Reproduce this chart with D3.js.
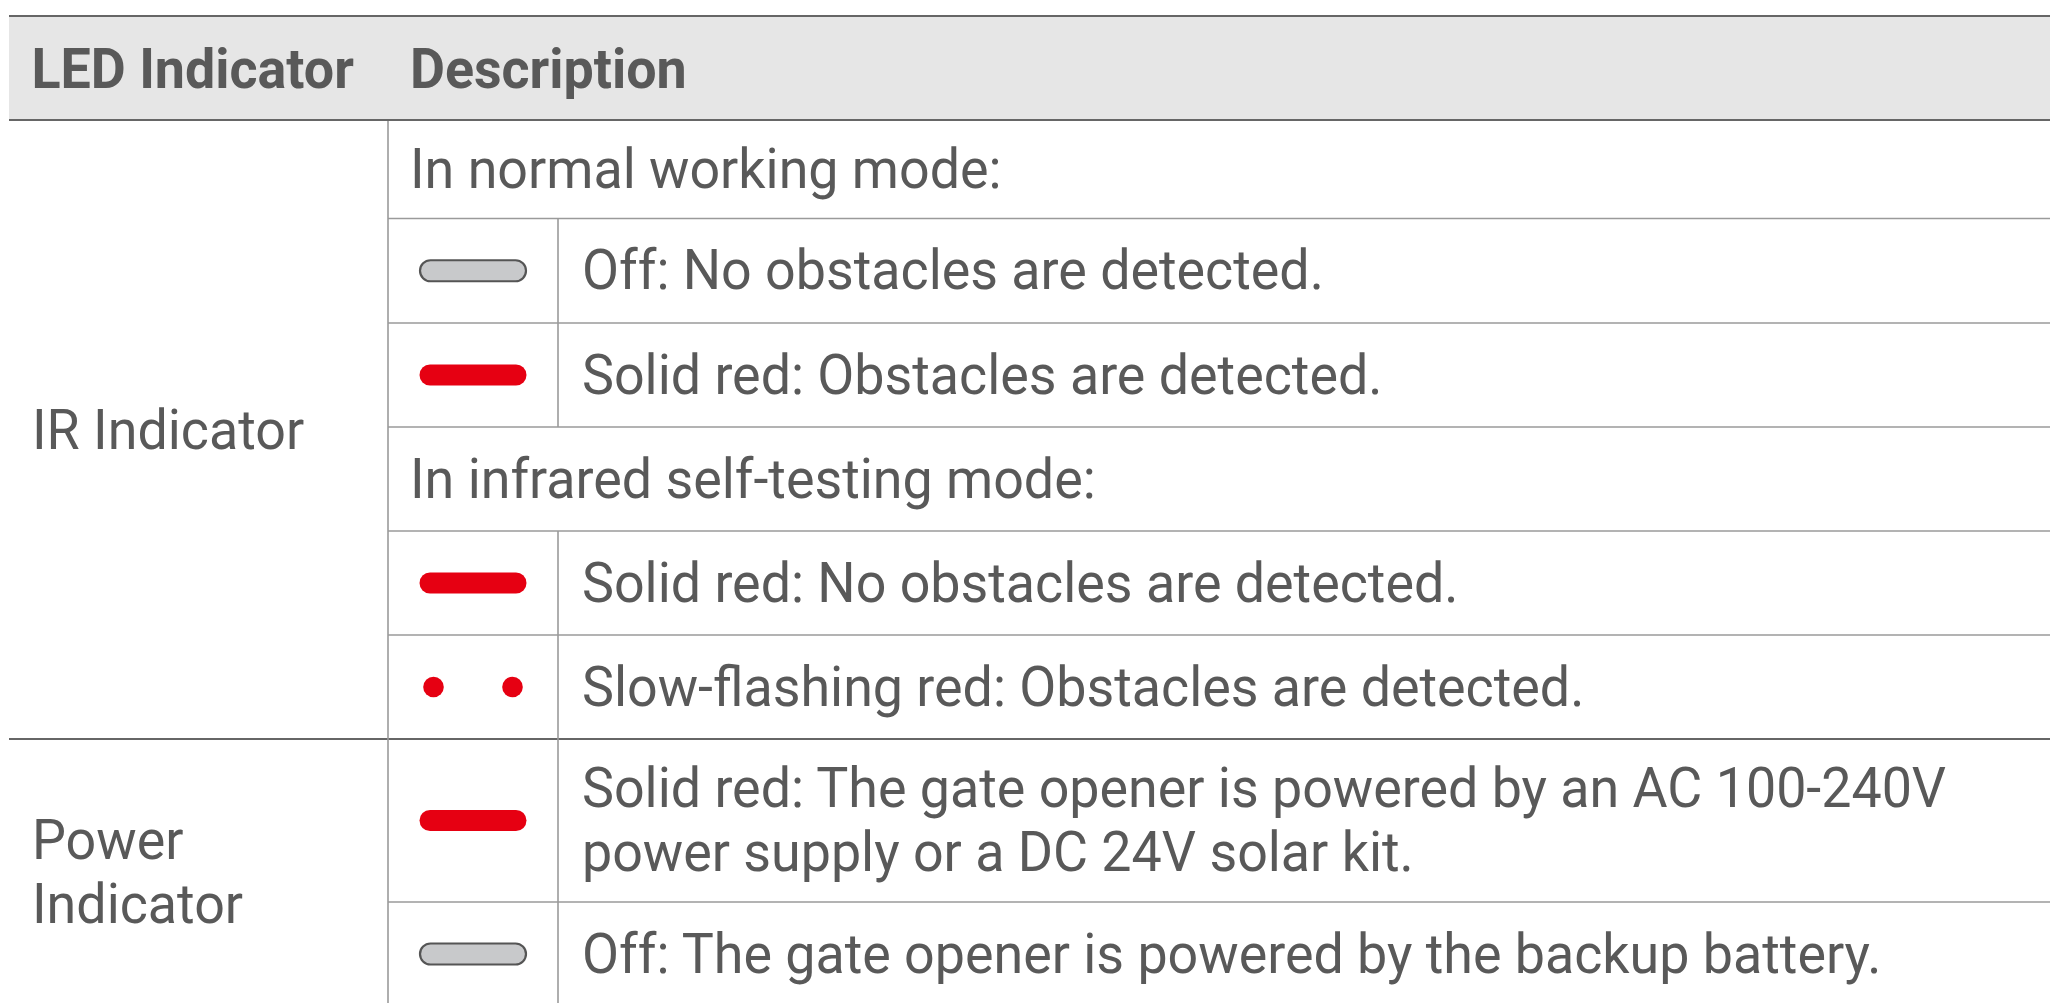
<!DOCTYPE html>
<html><head><meta charset="utf-8">
<script src="https://cdn.jsdelivr.net/npm/d3@7"></script>
<style>html,body{margin:0;padding:0;background:#fff;overflow:hidden}</style>
</head><body><svg id="c" width="2064" height="1003"></svg>
<script>
// ---- data ----
const headers = ["LED Indicator", "Description"];
const groupLabels = [["IR Indicator"], ["Power", "Indicator"]];
const rowGroup = [0, 0, 0, 0, 0, 0, 1, 1];
const rowIcon = [null, "off", "solid", null, "solid", "flash", "solid", "off"];
const rowText = [
  ["In normal working mode:"],
  ["Off: No obstacles are detected."],
  ["Solid red: Obstacles are detected."],
  ["In infrared self-testing mode:"],
  ["Solid red: No obstacles are detected."],
  ["Slow-flashing red: Obstacles are detected."],
  ["Solid red: The gate opener is powered by an AC 100-240V", "power supply or a DC 24V solar kit."],
  ["Off: The gate opener is powered by the backup battery."]
];

// ---- layout ----
const W = 2064, H = 1003;
const L = 9, R = 2050, C1 = 388, C2 = 558;
const headTop = 16, headBot = 120;
const rowH = [98.5, 104.5, 104, 104, 104, 104, 163, 104];
const FS = 55, SX = 0.978, LINE = 64;
const textCol = "#595959", darkLine = "#666", lightLine = "#9a9a9a";
const red = "#e60012";

const rowY = [];
let acc = headBot;
rowH.forEach(h => { rowY.push(acc); acc += h; });
const rows = rowText.map((t, i) => ({i, text: t, icon: rowIcon[i], group: rowGroup[i], y0: rowY[i], y1: rowY[i] + rowH[i]}));

const svg = d3.select("#c");
const font = "Roboto, 'Noto Sans', sans-serif";

function txt(g, s, x, y, weight) {
  g.append("text")
    .attr("transform", `translate(${x},${y}) scale(${SX},1)`)
    .attr("font-family", font).attr("font-size", FS)
    .attr("font-weight", weight || 400)
    .attr("fill", textCol).text(s);
}

// header band
svg.append("rect").attr("x", L).attr("y", headTop).attr("width", R - L).attr("height", headBot - headTop).attr("fill", "#e6e6e6");
const hx = [31.5, 410];
headers.forEach((h, i) => txt(svg, h, hx[i], (headTop + headBot) / 2 + 19.5, 700));

// horizontal lines
const lines = svg.append("g");
rows.forEach((r, k) => {
  if (k === 0) return;
  const newGroup = r.group !== rows[k - 1].group;
  lines.append("line")
    .attr("x1", newGroup ? L : C1).attr("x2", R)
    .attr("y1", r.y0).attr("y2", r.y0)
    .attr("stroke", newGroup ? darkLine : lightLine)
    .attr("stroke-width", newGroup ? 2 : 1.6);
});
// vertical lines
lines.append("line").attr("x1", C1).attr("x2", C1).attr("y1", headBot).attr("y2", H)
  .attr("stroke", lightLine).attr("stroke-width", 1.6);
rows.filter(r => r.icon).forEach(r => {
  lines.append("line").attr("x1", C2).attr("x2", C2).attr("y1", r.y0).attr("y2", Math.min(r.y1, H))
    .attr("stroke", lightLine).attr("stroke-width", 1.6);
});
// header top/bottom lines
[headTop, headBot].forEach(y => svg.append("line").attr("x1", L).attr("x2", R).attr("y1", y).attr("y2", y)
  .attr("stroke", darkLine).attr("stroke-width", 2));

// group labels
groupLabels.forEach((lab, gi) => {
  const gr = rows.filter(r => r.group === gi);
  const y0 = gr[0].y0, y1 = Math.min(gr[gr.length - 1].y1, 1004);
  const c = (y0 + y1) / 2;
  lab.forEach((s, j) => txt(svg, s, 32, c + 19.5 + (j - (lab.length - 1) / 2) * 63.5));
});

// row texts + icons
const ic = (C1 + C2) / 2;
rows.forEach(r => {
  const c = (r.y0 + r.y1) / 2;
  const x = r.icon ? 582 : 410;
  const n = r.text.length;
  r.text.forEach((s, j) => txt(svg, s, x, c + 18.5 + (j - (n - 1) / 2) * LINE));
  if (r.icon === "off") {
    svg.append("rect").attr("x", ic - 53).attr("y", c - 10.5).attr("width", 106).attr("height", 21)
      .attr("rx", 10.5).attr("fill", "#c8c9cb").attr("stroke", "#555").attr("stroke-width", 2.2);
  } else if (r.icon === "solid") {
    svg.append("rect").attr("x", ic - 53.5).attr("y", c - 10.5).attr("width", 107).attr("height", 21)
      .attr("rx", 10.5).attr("fill", red);
  } else if (r.icon === "flash") {
    [-39.5, 39.5].forEach(dx => svg.append("circle").attr("cx", ic + dx).attr("cy", c).attr("r", 10.3).attr("fill", red));
  }
});
</script></body></html>
